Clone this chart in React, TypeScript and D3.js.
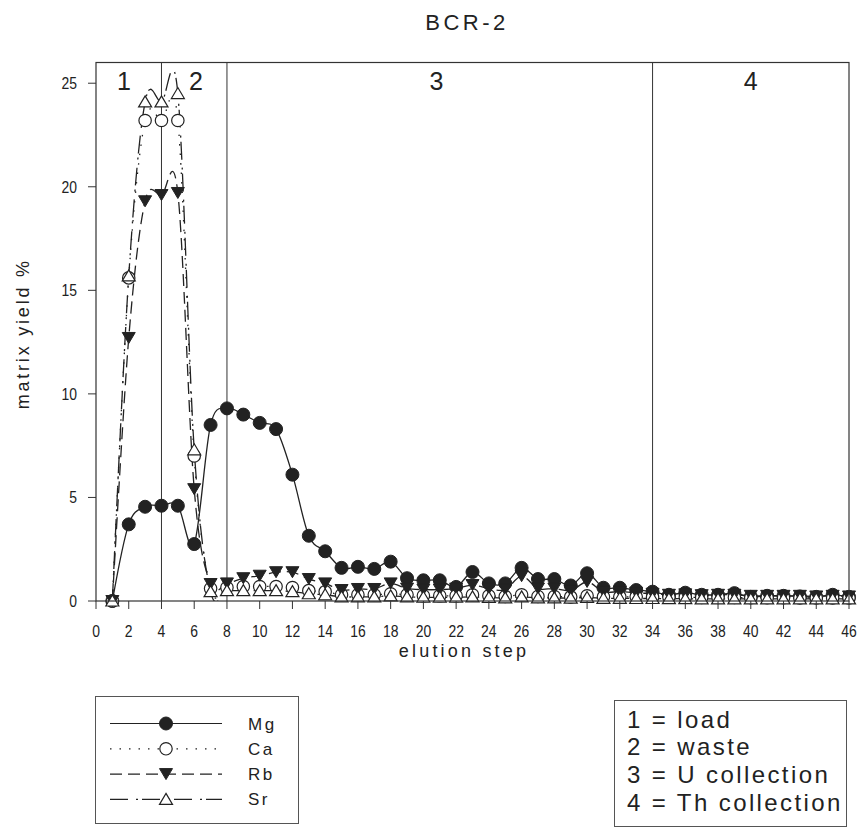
import React from 'react';
import * as d3 from 'd3';

// Elution steps (x) and matrix yield % per element
const steps = [1, 2, 3, 4, 5, 6, 7, 8, 9, 10, 11, 12, 13, 14, 15, 16, 17, 18, 19, 20, 21, 22, 23, 24, 25, 26, 27, 28, 29, 30, 31, 32, 33, 34, 35, 36, 37, 38, 39, 40, 41, 42, 43, 44, 45, 46];

const mg = [0, 3.7, 4.55, 4.6, 4.6, 2.75, 8.5, 9.3, 9.0, 8.6, 8.3, 6.1, 3.15, 2.4, 1.6, 1.65, 1.55, 1.9, 1.1, 1.0, 1.0, 0.68, 1.4, 0.85, 0.85, 1.6, 1.06, 1.06, 0.75, 1.34, 0.64, 0.64, 0.53, 0.45, 0.3, 0.4, 0.3, 0.3, 0.38, 0.2, 0.25, 0.25, 0.22, 0.2, 0.3, 0.2];
const ca = [0, 15.6, 23.2, 23.2, 23.2, 7.0, 0.6, 0.65, 0.7, 0.7, 0.7, 0.65, 0.5, 0.45, 0.3, 0.3, 0.3, 0.35, 0.3, 0.25, 0.25, 0.25, 0.3, 0.25, 0.22, 0.3, 0.22, 0.22, 0.2, 0.25, 0.2, 0.2, 0.2, 0.18, 0.18, 0.18, 0.17, 0.17, 0.17, 0.16, 0.16, 0.16, 0.15, 0.15, 0.15, 0.15];
const rb = [0, 12.7, 19.3, 19.6, 19.7, 5.4, 0.82, 0.85, 1.1, 1.22, 1.39, 1.39, 1.06, 0.85, 0.53, 0.58, 0.58, 0.85, 0.6, 0.55, 0.55, 0.6, 0.77, 0.6, 0.55, 1.2, 0.6, 0.6, 0.5, 0.92, 0.45, 0.45, 0.4, 0.35, 0.3, 0.32, 0.28, 0.3, 0.3, 0.25, 0.25, 0.25, 0.25, 0.22, 0.25, 0.22];
const sr = [0, 15.7, 24.1, 24.1, 24.5, 7.3, 0.45, 0.5, 0.5, 0.5, 0.5, 0.45, 0.35, 0.3, 0.2, 0.2, 0.2, 0.25, 0.2, 0.18, 0.18, 0.18, 0.2, 0.17, 0.15, 0.2, 0.15, 0.15, 0.14, 0.17, 0.13, 0.13, 0.12, 0.12, 0.11, 0.11, 0.1, 0.1, 0.1, 0.1, 0.1, 0.1, 0.1, 0.1, 0.1, 0.1];

const xTicks = [0, 2, 4, 6, 8, 10, 12, 14, 16, 18, 20, 22, 24, 26, 28, 30, 32, 34, 36, 38, 40, 42, 44, 46];
const yTicks = [0, 5, 10, 15, 20, 25];

// Fraction boundaries and their labels
const boundaries = [4, 8, 34];
const regionLabels = ['1', '2', '3', '4'];
const regionCentres = [1.7, 6.1, 20.8, 40];
const fractionNotes = ['1 = load', '2 = waste', '3 = U collection', '4 = Th collection'];

type Marker = 'dot' | 'circle' | 'down' | 'up';
interface Series { name: string; values: number[]; dash: string; marker: Marker; }
const series: Series[] = [
  { name: 'Mg', values: mg, dash: '', marker: 'dot' },
  { name: 'Ca', values: ca, dash: '1.5,8', marker: 'circle' },
  { name: 'Rb', values: rb, dash: '12,6', marker: 'down' },
  { name: 'Sr', values: sr, dash: '18,8,2,4', marker: 'up' },
];

const INK = '#222';
const FONT = 'Arial, "Liberation Sans", sans-serif';

const margin = { left: 96, right: 8, top: 62.5, bottom: 228 };
const W = 857;
const H = 829;

function MarkerShape({ kind, x, y }: { kind: Marker; x: number; y: number }) {
  if (kind === 'dot') return <circle cx={x} cy={y} r={6.5} fill={INK} stroke={INK} strokeWidth={1} />;
  if (kind === 'circle') return <circle cx={x} cy={y} r={6.2} fill="#fff" stroke={INK} strokeWidth={1.2} />;
  if (kind === 'down')
    return <path d={`M${x - 6.5},${y - 5.5}L${x + 6.5},${y - 5.5}L${x},${y + 5.5}Z`} fill={INK} stroke={INK} strokeWidth={1} />;
  return <path d={`M${x},${y - 6}L${x + 6.5},${y + 5}L${x - 6.5},${y + 5}Z`} fill="#fff" stroke={INK} strokeWidth={1.2} />;
}

// Condensed numeric tick label
function TickText({ x, y, anchor, children }: { x: number; y: number; anchor: string; children: React.ReactNode }) {
  return (
    <text transform={`translate(${x},${y}) scale(0.82,1)`} textAnchor={anchor} fontFamily={FONT} fontSize={17} fill={INK}>
      {children}
    </text>
  );
}

export default function App() {
  const x = d3.scaleLinear().domain([0, 46]).range([margin.left, W - margin.right]);
  const y = d3.scaleLinear().domain([0, 26]).range([H - margin.bottom, margin.top]);
  const x0 = x.range()[0];
  const x1 = x.range()[1];
  const yb = y(0);
  const yt = y(26);

  const line = d3
    .line<number>()
    .x((_, i) => x(steps[i]))
    .y((v) => y(v))
    .curve(d3.curveCardinal.tension(0));

  return (
    <svg width={W} height={H} style={{ position: 'absolute', left: 0, top: 0, background: '#fff' }}>
      <defs>
        <clipPath id="plot-clip">
          <rect x={x0} y={yt} width={x1 - x0} height={yb - yt} />
        </clipPath>
      </defs>

      <text x={467} y={30} textAnchor="middle" fontFamily={FONT} fontSize={22} letterSpacing={3.5} fill={INK}>
        BCR-2
      </text>

      {/* fraction boundaries */}
      {boundaries.map((b) => (
        <line key={b} x1={x(b)} x2={x(b)} y1={yt} y2={yb} stroke="#333" strokeWidth={1} />
      ))}
      {regionLabels.map((t, i) => (
        <text key={t} x={x(regionCentres[i])} y={90} textAnchor="middle" fontFamily={FONT} fontSize={25} fill={INK}>
          {t}
        </text>
      ))}

      {/* series lines */}
      <g clipPath="url(#plot-clip)">
        {series.map((s) => (
          <path key={s.name} d={line(s.values) || ''} fill="none" stroke={INK} strokeWidth={1.3} strokeDasharray={s.dash || undefined} />
        ))}
      </g>
      {/* series markers */}
      {series.map((s) => (
        <g key={s.name + '-m'}>
          {s.values.map((v, i) => (
            <MarkerShape key={i} kind={s.marker} x={x(steps[i])} y={y(v)} />
          ))}
        </g>
      ))}

      {/* frame */}
      <rect x={x0} y={yt} width={x1 - x0} height={yb - yt} fill="none" stroke="#333" strokeWidth={1.2} />

      {/* x axis */}
      {xTicks.map((t) => (
        <g key={t}>
          <line x1={x(t)} x2={x(t)} y1={yb} y2={yb + 8} stroke="#333" strokeWidth={1} />
          <TickText x={x(t)} y={637} anchor="middle">{t}</TickText>
        </g>
      ))}
      {/* y axis */}
      {yTicks.map((t) => (
        <g key={t}>
          <line x1={x0 - 8} x2={x0} y1={y(t)} y2={y(t)} stroke="#333" strokeWidth={1} />
          <TickText x={x0 - 19} y={y(t) + 6} anchor="end">{t}</TickText>
        </g>
      ))}

      <text x={464} y={657} textAnchor="middle" fontFamily={FONT} fontSize={18} letterSpacing={3.2} fill={INK}>
        elution step
      </text>
      <text transform={`translate(29, ${(yt + yb) / 2 + 2}) rotate(-90)`} textAnchor="middle" fontFamily={FONT} fontSize={18} letterSpacing={2.8} fill={INK}>
        matrix yield %
      </text>

      {/* series legend */}
      <rect x={95.5} y={696.5} width={203} height={127} fill="#fff" stroke="#555" strokeWidth={1} />
      {series.map((s, i) => {
        const ly = 723.5 + i * 25.3;
        return (
          <g key={s.name + '-leg'}>
            <line x1={110} x2={222} y1={ly} y2={ly} stroke={INK} strokeWidth={1.2} strokeDasharray={s.dash || undefined} />
            <MarkerShape kind={s.marker} x={166} y={ly} />
            <text x={248} y={ly + 6} fontFamily={FONT} fontSize={17} letterSpacing={2.5} fill={INK}>
              {s.name}
            </text>
          </g>
        );
      })}

      {/* fraction legend */}
      <rect x={614.5} y={700.5} width={232} height={126} fill="#fff" stroke="#555" strokeWidth={1} />
      {fractionNotes.map((t, i) => (
        <text key={t} x={627} y={727.5 + i * 27.8} fontFamily={FONT} fontSize={24} letterSpacing={2.4} fill={INK}>
          {t}
        </text>
      ))}
    </svg>
  );
}
